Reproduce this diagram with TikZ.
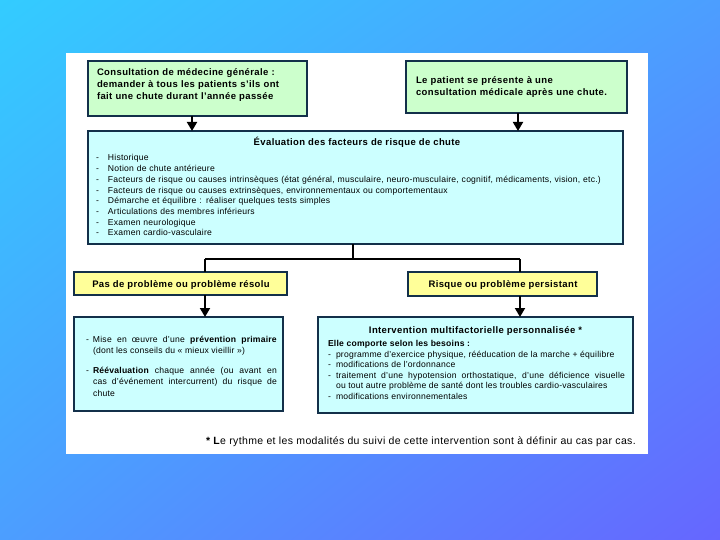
\documentclass[tikz,border=0pt]{standalone}
\usepackage{fontspec}
\setmainfont{Liberation Sans}
\newfontfamily\regsp[LetterSpace=2.5]{Liberation Sans}
\newfontfamily\bsp[LetterSpace=4]{Liberation Sans}
\newfontfamily\fnsp[LetterSpace=3.5]{Liberation Sans}
\usetikzlibrary{arrows.meta,shadings}
\definecolor{bgUL}{HTML}{33CCFF}
\definecolor{bgUR}{HTML}{4C9EFF}
\definecolor{bgLL}{HTML}{4C9EFF}
\definecolor{bgLR}{HTML}{6666FF}
\definecolor{boxline}{HTML}{13304A}
\definecolor{gfill}{HTML}{CCFFCC}
\definecolor{cfill}{HTML}{CCFFFF}
\definecolor{yfill}{HTML}{FFFF99}
\tikzset{
  box/.style={draw=boxline, line width=1.6pt, inner sep=0pt, outer sep=0pt},
  gbox/.style={box, fill=gfill},
  cbox/.style={box, fill=cfill},
  ybox/.style={box, fill=yfill},
  txt/.style={inner sep=0pt, outer sep=0pt, anchor=base west},
  regfont/.style={font=\regsp\fontsize{8.6}{10.7}\selectfont},
  bfont/.style={font=\bsp\fontsize{9.5}{12}\selectfont\bfseries},
  ttl/.style={inner sep=0pt, outer sep=0pt, anchor=base, bfont},
  conn/.style={line width=1.8pt, draw=black},
  arr/.style={conn, -{Triangle[width=10pt,length=9pt]}},
}
\begin{document}
\begin{tikzpicture}[x=1pt,y=-1pt]
\useasboundingbox (0,0) rectangle (720,540);
\shade[upper left=bgUL, upper right=bgUR, lower left=bgLL, lower right=bgLR] (0,0) rectangle (720,540);
\fill[white] (66,53) rectangle (648,454);

% boxes
\node[gbox, minimum width=219pt, minimum height=55pt] (c1) at (197.5,88.5) {};
\node[gbox, minimum width=221pt, minimum height=52pt] (c2) at (516.5,87) {};
\node[cbox, minimum width=535pt, minimum height=113pt] (ev) at (355.5,187.5) {};
\node[ybox, minimum width=213pt, minimum height=23pt] (y1) at (180.5,283.5) {};
\node[ybox, minimum width=189pt, minimum height=24pt] (y2) at (502.5,284) {};
\node[cbox, minimum width=209pt, minimum height=94pt] (ll) at (178.5,364) {};
\node[cbox, minimum width=315pt, minimum height=96pt] (lr) at (475.5,365) {};

% texts
\node[txt, text width=205pt, align=left, bfont] (t1) at (97,75.5)
  {Consultation de médecine générale :\\demander à tous les patients s’ils ont\\fait une chute durant l’année passée};
\node[txt, text width=205pt, align=left, bfont] (t2) at (416,83.5)
  {Le patient se présente à une\\consultation médicale après une chute.};
\node[ttl] (tev) at (357,146) {Évaluation des facteurs de risque de chute};
\node[txt, text width=520pt, align=left, regfont] (lev) at (96,161)
  {\makebox[12pt][l]{-}Historique\\
   \makebox[12pt][l]{-}Notion de chute antérieure\\
   \makebox[12pt][l]{-}Facteurs de risque ou causes intrinsèques (état général, musculaire, neuro-musculaire, cognitif, médicaments, vision, etc.)\\
   \makebox[12pt][l]{-}Facteurs de risque ou causes extrinsèques, environnementaux ou comportementaux\\
   \makebox[12pt][l]{-}Démarche et équilibre : réaliser quelques tests simples\\
   \makebox[12pt][l]{-}Articulations des membres inférieurs\\
   \makebox[12pt][l]{-}Examen neurologique\\
   \makebox[12pt][l]{-}Examen cardio-vasculaire};
\node[ttl] (ty1) at (181,287) {Pas de problème ou problème résolu};
\node[ttl] (ty2) at (503,287.5) {Risque ou problème persistant};

\node[txt, text width=191pt, align=justify, font=\regsp\fontsize{8.6}{11.3}\selectfont] (tll) at (86,342.5)
  {\hangindent=7pt\hangafter=1\makebox[7pt][l]{-}Mise en œuvre d’une \textbf{prévention primaire}\linebreak (dont les conseils du «~mieux vieillir~»)\par
   \vspace{8.5pt}
   \hangindent=7pt\hangafter=1\makebox[7pt][l]{-}\textbf{Réévaluation} chaque année (ou avant en\linebreak cas d’événement intercurrent) du risque de\linebreak chute\par};

\node[ttl] (tlr) at (475.5,333.5) {Intervention multifactorielle personnalisée *};
\node[txt, text width=297pt, align=justify, font=\regsp\fontsize{8.6}{10.6}\selectfont] (llr) at (328,346.5)
  {\textbf{Elle comporte selon les besoins :}\par
   \hangindent=8pt\hangafter=1\makebox[8pt][l]{-}programme d’exercice physique, rééducation de la marche + équilibre\par
   \hangindent=8pt\hangafter=1\makebox[8pt][l]{-}modifications de l’ordonnance\par
   \hangindent=8pt\hangafter=1\makebox[8pt][l]{-}traitement d’une hypotension orthostatique, d’une déficience visuelle\linebreak ou tout autre problème de santé dont les troubles cardio-vasculaires\par
   \hangindent=8pt\hangafter=1\makebox[8pt][l]{-}modifications environnementales\par};

\node[inner sep=0pt, anchor=base east, font=\fnsp\fontsize{10.5}{12}\selectfont] (fn) at (636,444.5)
  {\textbf{* L}e rythme et les modalités du suivi de cette intervention sont à définir au cas par cas.};

% connectors
\coordinate (split) at (353,259);
\coordinate (sl) at (205,259);
\coordinate (sr) at (520,259);
\coordinate (al) at (192,0);
\coordinate (ar) at (518,0);
\draw[arr] (c1.south -| al) -- (ev.north -| al);
\draw[arr] (c2.south -| ar) -- (ev.north -| ar);
\draw[conn] (ev.south -| split) -- (split);
\draw[conn] (sl) -- (sr);
\draw[conn] (sl) -- (sl |- y1.north);
\draw[conn] (sr) -- (sr |- y2.north);
\draw[arr] (y1.south -| sl) -- (ll.north -| sl);
\draw[arr] (y2.south -| sr) -- (lr.north -| sr);
\end{tikzpicture}
\end{document}
